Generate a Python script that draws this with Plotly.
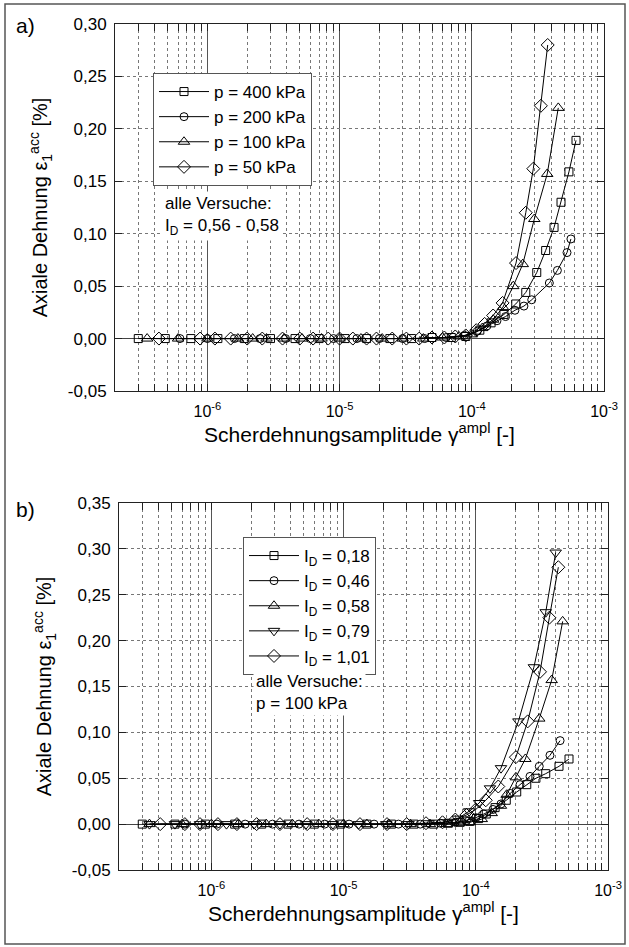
import plotly.graph_objects as go

# ---------------- data: panel a) (density I_D = 0.56-0.58) ----------------
a_labels = ["p = 400 kPa", "p = 200 kPa", "p = 100 kPa", "p = 50 kPa"]
a_symbols = ["square-open", "circle-open", "triangle-up-open", "diamond-open"]

a400_x = [3.0e-7, 4.8e-7, 7.5e-7, 1.2e-6, 1.9e-6, 3.0e-6, 4.6e-6, 7.0e-6, 1.1e-5, 1.6e-5,
          2.4e-5, 3.5e-5, 5.0e-5, 7.0e-5, 9.0e-5, 1.15e-4, 1.4e-4, 1.75e-4, 2.15e-4, 2.56e-4,
          3.1e-4, 3.62e-4, 4.19e-4, 4.73e-4, 5.43e-4, 6.14e-4]
a400_y = [0.0, 0.0, 0.0, 0.0, 0.0, 0.0, 0.0, 0.0, 0.0, 0.0,
          0.0, 0.0, 0.001, 0.001, 0.002, 0.008, 0.015, 0.023, 0.033, 0.044,
          0.063, 0.084, 0.106, 0.130, 0.159, 0.189]

a200_x = [6.2e-7, 1.0e-6, 1.6e-6, 2.5e-6, 3.9e-6, 6.0e-6, 9.0e-6, 1.35e-5, 2.0e-5, 3.0e-5,
          4.4e-5, 6.4e-5, 8.8e-5, 1.1e-4, 1.3e-4, 1.55e-4, 1.8e-4, 2.12e-4, 2.48e-4, 2.84e-4,
          3.86e-4, 4.44e-4, 5.25e-4, 5.62e-4]
a200_y = [0.0, 0.0, 0.0, 0.0, 0.0, 0.0, 0.0, 0.0, 0.0, 0.0,
          0.0, 0.001, 0.003, 0.007, 0.012, 0.017, 0.021, 0.027, 0.031, 0.037,
          0.053, 0.065, 0.082, 0.095]

a100_x = [3.5e-7, 6.0e-7, 1.0e-6, 1.7e-6, 2.2e-6, 2.8e-6, 3.8e-6, 5.2e-6, 7.3e-6, 1.0e-5,
          1.45e-5, 2.1e-5, 3.0e-5, 4.3e-5, 6.0e-5, 8.0e-5, 1.0e-4, 1.2e-4, 1.45e-4, 1.72e-4,
          2.06e-4, 2.43e-4, 2.97e-4, 3.72e-4, 4.51e-4]
a100_y = [0.0, 0.0, 0.0, 0.0, 0.0, 0.0, 0.0, 0.0, 0.0, 0.0,
          0.0, 0.0, 0.0, 0.0, 0.001, 0.002, 0.004, 0.010, 0.018, 0.030,
          0.050, 0.071, 0.114, 0.157, 0.220]

a50_x = [4.3e-7, 8.8e-7, 1.14e-6, 1.5e-6, 2.0e-6, 2.6e-6, 3.7e-6, 5.0e-6, 6.3e-6, 8.2e-6,
         1.0e-5, 1.26e-5, 1.6e-5, 1.9e-5, 2.5e-5, 3.2e-5, 4.0e-5, 5.0e-5, 6.2e-5, 7.5e-5,
         9.0e-5, 1.08e-4, 1.25e-4, 1.45e-4, 1.71e-4, 2.16e-4, 2.56e-4, 2.92e-4, 3.33e-4, 3.75e-4]
a50_y = [0.0, 0.0, 0.0, 0.0, 0.0, 0.0, 0.0, 0.0, 0.0, 0.0,
         0.0, 0.0, 0.0, 0.0, 0.0, 0.0, 0.0, 0.001, 0.001, 0.002,
         0.003, 0.008, 0.014, 0.022, 0.034, 0.072, 0.120, 0.162, 0.222, 0.280]

# ---------------- data: panel b) (p = 100 kPa) ----------------
b_labels = ["I<sub>D</sub> = 0,18", "I<sub>D</sub> = 0,46", "I<sub>D</sub> = 0,58",
            "I<sub>D</sub> = 0,79", "I<sub>D</sub> = 1,01"]
b_symbols = ["square-open", "circle-open", "triangle-up-open", "triangle-down-open", "diamond-open"]

b018_x = [3.0e-7, 5.3e-7, 9.0e-7, 1.5e-6, 2.4e-6, 3.8e-6, 6.0e-6, 9.5e-6, 1.5e-5, 2.3e-5,
          3.4e-5, 4.8e-5, 6.2e-5, 7.6e-5, 9.0e-5, 1.05e-4, 1.2e-4, 1.4e-4, 1.7e-4, 2.04e-4,
          2.43e-4, 2.85e-4, 3.38e-4, 4.26e-4, 5.07e-4]
b018_y = [0.0, 0.0, 0.0, 0.0, 0.0, 0.0, 0.0, 0.0, 0.0, 0.0,
          0.0, 0.0, 0.001, 0.002, 0.003, 0.006, 0.011, 0.018, 0.026, 0.035,
          0.043, 0.050, 0.055, 0.063, 0.071]

b046_x = [6.3e-7, 1.1e-6, 1.8e-6, 2.9e-6, 4.6e-6, 7.2e-6, 1.1e-5, 1.7e-5, 2.6e-5, 3.8e-5,
          5.4e-5, 7.0e-5, 8.5e-5, 1.0e-4, 1.15e-4, 1.35e-4, 1.55e-4, 1.82e-4, 2.16e-4, 2.57e-4,
          3.02e-4, 3.64e-4, 4.34e-4]
b046_y = [0.0, 0.0, 0.0, 0.0, 0.0, 0.0, 0.0, 0.0, 0.0, 0.0,
          0.001, 0.002, 0.004, 0.007, 0.011, 0.016, 0.022, 0.0335, 0.043, 0.052,
          0.063, 0.075, 0.091]

b058_x = [3.4e-7, 6.0e-7, 1.0e-6, 1.6e-6, 2.6e-6, 4.1e-6, 6.5e-6, 1.0e-5, 1.5e-5, 2.2e-5,
          3.2e-5, 4.5e-5, 6.0e-5, 7.5e-5, 9.0e-5, 1.11e-4, 1.32e-4, 1.55e-4, 1.71e-4, 2.01e-4,
          2.37e-4, 3.02e-4, 3.75e-4, 4.54e-4]
b058_y = [0.0, 0.0, 0.0, 0.0, 0.0, 0.0, 0.0, 0.0, 0.0, 0.0,
          0.0, 0.0, 0.0, 0.001, 0.002, 0.0055, 0.012, 0.020, 0.032, 0.051,
          0.071, 0.115, 0.157, 0.221]

b079_x = [3.4e-7, 5.3e-7, 8.2e-7, 1.3e-6, 2.1e-6, 3.3e-6, 5.2e-6, 8.3e-6, 1.3e-5, 2.1e-5,
          3.1e-5, 4.4e-5, 5.8e-5, 7.3e-5, 8.9e-5, 1.06e-4, 1.28e-4, 1.55e-4, 2.1e-4, 2.75e-4,
          3.38e-4, 4.02e-4]
b079_y = [0.0, 0.0, 0.0, 0.0, 0.0, 0.0, 0.0, 0.0, 0.0, 0.0,
          0.0, 0.001, 0.002, 0.006, 0.014, 0.023, 0.039, 0.061, 0.112, 0.171,
          0.231, 0.296]

b101_x = [4.1e-7, 6.3e-7, 8.2e-7, 1.12e-6, 1.56e-6, 2.2e-6, 3.3e-6, 5.3e-6, 8.3e-6, 1.33e-5,
          2.13e-5, 3.0e-5, 4.2e-5, 5.6e-5, 7.0e-5, 8.5e-5, 1.0e-4, 1.19e-4, 1.48e-4, 2.01e-4,
          2.47e-4, 3.06e-4, 3.6e-4, 4.21e-4]
b101_y = [0.0, 0.0, 0.0, 0.0, 0.0, 0.0, 0.0, 0.0, 0.0, 0.0,
          0.0, 0.0, 0.001, 0.002, 0.005, 0.010, 0.016, 0.026, 0.041, 0.073,
          0.112, 0.166, 0.225, 0.280]

# ---------------- ticks ----------------
x_major = [1e-6, 1e-5, 1e-4, 1e-3]
x_major_text = ["10<sup>-6</sup>", "10<sup>-5</sup>", "10<sup>-4</sup>", "10<sup>-3</sup>"]
x_minor = [m * 10.0 ** e for e in range(-7, -3) for m in range(2, 10)]
ya_vals = [-0.05, 0.0, 0.05, 0.10, 0.15, 0.20, 0.25, 0.30]
ya_text = ["-0,05", "0,00", "0,05", "0,10", "0,15", "0,20", "0,25", "0,30"]
yb_vals = [-0.05, 0.0, 0.05, 0.10, 0.15, 0.20, 0.25, 0.30, 0.35]
yb_text = ["-0,05", "0,00", "0,05", "0,10", "0,15", "0,20", "0,25", "0,30", "0,35"]

FONT = "Liberation Sans, Arial, Helvetica, sans-serif"
W, H = 629, 947

fig = go.Figure()

a_series = [(a400_x, a400_y), (a200_x, a200_y), (a100_x, a100_y), (a50_x, a50_y)]
a_sizes = [8, 8, 10, 10]
for (xs, ys), name, sym, sz in zip(a_series, a_labels, a_symbols, a_sizes):
    fig.add_trace(go.Scatter(x=xs, y=ys, name=name, mode="lines+markers",
                             line=dict(color="black", width=1),
                             marker=dict(symbol=sym, size=sz, color="black",
                                         line=dict(width=1, color="black")),
                             xaxis="x", yaxis="y", legend="legend"))

b_series = [(b018_x, b018_y), (b046_x, b046_y), (b058_x, b058_y), (b079_x, b079_y), (b101_x, b101_y)]
b_sizes = [8, 8, 10, 10, 10]
for (xs, ys), name, sym, sz in zip(b_series, b_labels, b_symbols, b_sizes):
    fig.add_trace(go.Scatter(x=xs, y=ys, name=name, mode="lines+markers",
                             line=dict(color="black", width=1),
                             marker=dict(symbol=sym, size=sz, color="black",
                                         line=dict(width=1, color="black")),
                             xaxis="x2", yaxis="y2", legend="legend2"))


def xaxis_cfg(domain, anchor):
    return dict(
        type="log", range=[-6.69897, -3.0], domain=domain, anchor=anchor,
        tickmode="array", tickvals=x_major, ticktext=x_major_text,
        ticks="inside", ticklen=7, tickcolor="#222", tickwidth=1,
        showline=True, linecolor="#222", linewidth=1, mirror="ticks",
        showgrid=True, gridcolor="#555", gridwidth=1,
        minor=dict(tickmode="array", tickvals=x_minor, ticks="inside", ticklen=7,
                   tickcolor="#222", showgrid=True, gridcolor="#777", griddash="dot", gridwidth=1),
        tickfont=dict(family=FONT, size=16, color="black"),
        ticklabelstandoff=6,
        title=dict(text="Scherdehnungsamplitude γ<sup>ampl</sup> [-]",
                   font=dict(family=FONT, size=21, color="black"), standoff=6),
        automargin=False, zeroline=False,
    )


def yaxis_cfg(domain, anchor, rng, vals, text):
    return dict(
        range=rng, domain=domain, anchor=anchor,
        tickmode="array", tickvals=vals, ticktext=text,
        ticks="inside", ticklen=7, tickcolor="#222", tickwidth=1,
        showline=True, linecolor="#222", linewidth=1, mirror="ticks",
        showgrid=True, gridcolor="#777", griddash="dot", gridwidth=1,
        zeroline=True, zerolinecolor="#444", zerolinewidth=1,
        tickfont=dict(family=FONT, size=17, color="black"),
        ticklabelstandoff=4,
        title=dict(text="Axiale Dehnung ε<sub>1</sub><sup>acc</sup> [%]",
                   font=dict(family=FONT, size=20, color="black"), standoff=14),
        automargin=False,
    )


fig.update_layout(
    width=W, height=H, margin=dict(l=0, r=0, t=0, b=0),
    paper_bgcolor="white", plot_bgcolor="white",
    font=dict(family=FONT, size=17, color="black"),
    xaxis=xaxis_cfg([115 / W, 604 / W], "y"),
    yaxis=yaxis_cfg([1 - 391 / H, 1 - 24 / H], "x", [-0.05, 0.30], ya_vals, ya_text),
    xaxis2=xaxis_cfg([119 / W, 608 / W], "y2"),
    yaxis2=yaxis_cfg([1 - 870 / H, 1 - 503 / H], "x2", [-0.05, 0.35], yb_vals, yb_text),
    legend=dict(x=153 / W, y=1 - 73 / H, xanchor="left", yanchor="top",
                bgcolor="white", bordercolor="#555", borderwidth=1,
                font=dict(family=FONT, size=17, color="black"), itemwidth=50,
                tracegroupgap=0),
    legend2=dict(x=243 / W, y=1 - 537 / H, xanchor="left", yanchor="top",
                 bgcolor="white", bordercolor="#555", borderwidth=1,
                 font=dict(family=FONT, size=17, color="black"), itemwidth=50,
                 tracegroupgap=0),
    showlegend=True,
    annotations=[
        dict(text="a)", x=14 / W, y=1 - 12 / H, xref="paper", yref="paper",
             xanchor="left", yanchor="top", showarrow=False,
             font=dict(family=FONT, size=21, color="black")),
        dict(text="b)", x=14 / W, y=1 - 496 / H, xref="paper", yref="paper",
             xanchor="left", yanchor="top", showarrow=False,
             font=dict(family=FONT, size=21, color="black")),
        dict(text="alle Versuche:<br>I<sub>D</sub> = 0,56 - 0,58", x=162 / W, y=1 - 191 / H,
             xref="paper", yref="paper", xanchor="left", yanchor="top", align="left",
             bgcolor="white", borderpad=2,
             showarrow=False, font=dict(family=FONT, size=17, color="black")),
        dict(text="alle Versuche:<br>p = 100 kPa", x=253 / W, y=1 - 669 / H,
             xref="paper", yref="paper", xanchor="left", yanchor="top", align="left",
             bgcolor="white", borderpad=2,
             showarrow=False, font=dict(family=FONT, size=17, color="black")),
    ],
    shapes=[
        dict(type="rect", xref="paper", yref="paper", x0=5 / W, x1=625 / W,
             y0=1 - 944 / H, y1=1 - 4 / H, line=dict(color="#555", width=1.5)),
    ],
)

fig.write_html("out.html",
               config={"displayModeBar": False},
               post_script="document.body.style.margin='0';document.body.style.padding='0';"
                           "document.body.style.overflow='hidden';")
